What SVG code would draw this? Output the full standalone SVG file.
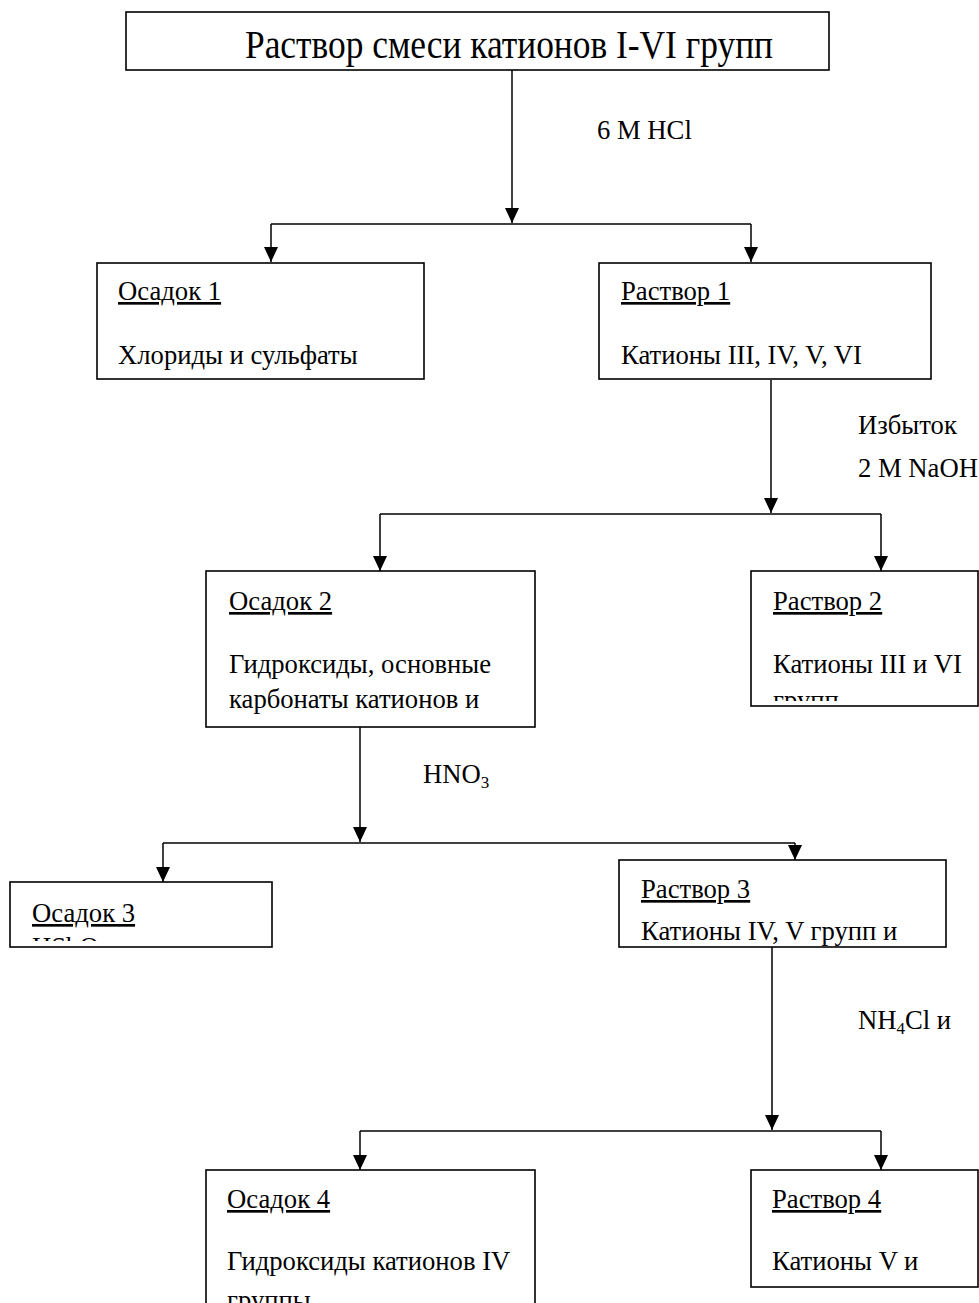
<svg xmlns="http://www.w3.org/2000/svg" width="979" height="1303" viewBox="0 0 979 1303">
<style>
.box{fill:#fff;stroke:#000;stroke-width:1.6}
.t{font-family:"Liberation Serif","Times New Roman",serif;font-size:26.67px;fill:#000}
.title{font-size:40px}
.u{text-decoration:underline}
.c{fill:none;stroke:#000;stroke-width:1.5}
</style>
<defs>
<marker id="ah" markerUnits="userSpaceOnUse" markerWidth="16" markerHeight="16" viewBox="0 0 16 16" refX="15" refY="8" orient="auto">
<path d="M0,1 L15,8 L0,15 Z" fill="#000"/>
</marker>
<clipPath id="cr2"><rect x="752" y="572" width="227" height="129"/></clipPath>
<clipPath id="co3"><rect x="11" y="883" width="260" height="58"/></clipPath>
<clipPath id="co4"><rect x="207" y="1171" width="327" height="132"/></clipPath>
</defs>
<g id="connectors">
<path class="c" d="M512,70 V223" marker-end="url(#ah)"/>
<path class="c" d="M271,224 H751"/>
<path class="c" d="M271,224 V262" marker-end="url(#ah)"/>
<path class="c" d="M751,224 V262" marker-end="url(#ah)"/>
<path class="c" d="M771,380 V513" marker-end="url(#ah)"/>
<path class="c" d="M380,514 H881"/>
<path class="c" d="M380,514 V571" marker-end="url(#ah)"/>
<path class="c" d="M881,514 V571" marker-end="url(#ah)"/>
<path class="c" d="M360,727 V842" marker-end="url(#ah)"/>
<path class="c" d="M163,843 H795"/>
<path class="c" d="M163,843 V882" marker-end="url(#ah)"/>
<path class="c" d="M795,843 V860" marker-end="url(#ah)"/>
<path class="c" d="M772,947 V1130" marker-end="url(#ah)"/>
<path class="c" d="M360,1131 H881"/>
<path class="c" d="M360,1131 V1170" marker-end="url(#ah)"/>
<path class="c" d="M881,1131 V1170" marker-end="url(#ah)"/>
<text class="t" x="597" y="139">6 M HCl</text>
<text class="t" x="858" y="434">Избыток</text>
<text class="t" x="858" y="477">2 M NaOH</text>
<text class="t" x="423" y="783">HNO<tspan font-size="17" dy="5">3</tspan></text>
<text class="t" x="858" y="1029">NH<tspan font-size="17" dy="5">4</tspan><tspan dy="-5">Cl и</tspan></text>
</g>
<g id="top">
<rect class="box" x="126" y="12" width="703" height="58"/>
<text class="t title" x="245" y="58" textLength="528" lengthAdjust="spacingAndGlyphs">Раствор смеси катионов I-VI групп</text>
</g>
<g id="osadok1">
<rect class="box" x="97" y="263" width="327" height="116"/>
<text class="t u" x="118" y="300">Осадок 1</text>
<text class="t" x="118" y="364">Хлориды и сульфаты</text>
</g>
<g id="rastvor1">
<rect class="box" x="599" y="263" width="332" height="116"/>
<text class="t u" x="621" y="300">Раствор 1</text>
<text class="t" x="621" y="364">Катионы III, IV, V, VI</text>
</g>
<g id="osadok2">
<rect class="box" x="206" y="571" width="329" height="156"/>
<text class="t u" x="229" y="610">Осадок 2</text>
<text class="t" x="229" y="673">Гидроксиды, основные</text>
<text class="t" x="229" y="708">карбонаты катионов и</text>
</g>
<g id="rastvor2">
<rect class="box" x="751" y="571" width="227" height="135"/>
<text class="t u" x="773" y="610">Раствор 2</text>
<text class="t" x="773" y="673">Катионы III и VI</text>
<text class="t" x="773" y="709" clip-path="url(#cr2)">групп</text>
</g>
<g id="osadok3">
<rect class="box" x="10" y="882" width="262" height="65"/>
<text class="t u" x="32" y="922">Осадок 3</text>
<text class="t" x="32" y="956" clip-path="url(#co3)">HSbO<tspan font-size="17" dy="5">3</tspan></text>
</g>
<g id="rastvor3">
<rect class="box" x="619" y="860" width="327" height="87"/>
<text class="t u" x="641" y="898">Раствор 3</text>
<text class="t" x="641" y="940">Катионы IV, V групп и</text>
</g>
<g id="osadok4">
<rect class="box" x="206" y="1170" width="329" height="140"/>
<text class="t u" x="227" y="1208">Осадок 4</text>
<text class="t" x="227" y="1270">Гидроксиды катионов IV</text>
<text class="t" x="227" y="1309" clip-path="url(#co4)">группы</text>
</g>
<g id="rastvor4">
<rect class="box" x="751" y="1170" width="227" height="117"/>
<text class="t u" x="772" y="1208">Раствор 4</text>
<text class="t" x="772" y="1270">Катионы V и</text>
</g>
</svg>
